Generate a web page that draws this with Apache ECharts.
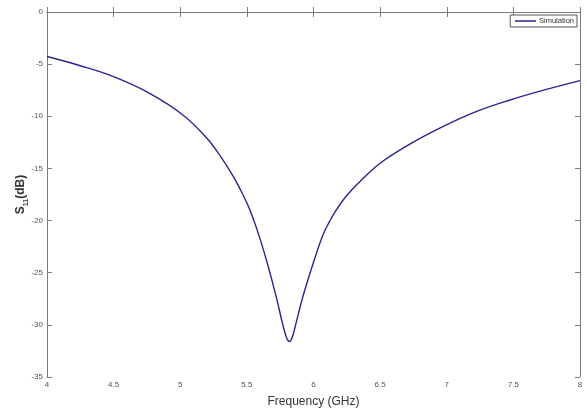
<!DOCTYPE html>
<html>
<head>
<meta charset="utf-8">
<style>
  html, body { margin: 0; padding: 0; background: #fff; }
  #chart { width: 587px; height: 413px; }
</style>
<script src="https://cdn.jsdelivr.net/npm/echarts@6/dist/echarts.min.js"></script>
</head>
<body>
<div id="chart"></div>
<script>
// Return loss of the antenna versus frequency
const freqGHz = [4.00, 4.25, 4.50, 4.77, 5.02, 5.20, 5.30, 5.40, 5.45, 5.52, 5.60, 5.66, 5.72, 5.77, 5.80,
                 5.82, 5.84, 5.86, 5.92, 6.00, 6.07, 6.12, 6.17, 6.25, 6.37, 6.50, 6.72, 6.97,
                 7.22, 7.47, 7.72, 8.00];
const s11dB = [-4.27, -5.15, -6.2, -7.8, -9.87, -12.1, -13.8, -15.8, -17.0, -18.9, -21.8, -24.4, -27.3, -30.0, -31.3,
               -31.6, -31.2, -30.3, -27.3, -24.0, -21.4, -20.1, -19.0, -17.6, -16.0, -14.5, -12.7, -11.0,
               -9.56, -8.46, -7.52, -6.58];
const seriesName = 'Simulation';
const xTitle = 'Frequency (GHz)';

const axisGrey = '#7a7a7a';
const lineColor = '#26268e';
const font = 'Liberation Sans, Arial, sans-serif';
const labelStyle = { fontSize: 8, color: '#555', fontFamily: font };

const chart = echarts.init(document.getElementById('chart'), null, { renderer: 'canvas' });
chart.setOption({
  animation: false,
  backgroundColor: '#fff',
  grid: { left: 47, top: 12, right: 7, bottom: 30, containLabel: false },
  legend: {
    data: [seriesName],
    right: 10, top: 15,
    orient: 'vertical',
    padding: [2, 3, 2, 4],
    itemWidth: 21, itemHeight: 8, itemGap: 2,
    itemStyle: { opacity: 0 },
    lineStyle: { color: lineColor, width: 1.5 },
    borderColor: '#555', borderWidth: 1, borderRadius: 0,
    backgroundColor: '#fff',
    textStyle: { fontSize: 7.5, color: '#333', fontFamily: font, padding: [0, 0, 0, -2] }
  },
  xAxis: [{
    type: 'value', min: 4, max: 8, interval: 0.5,
    name: xTitle, nameLocation: 'middle', nameGap: 19, nameMoveOverlap: false,
    nameTextStyle: { fontSize: 12, color: '#333', fontFamily: font },
    axisLine: { show: true, lineStyle: { color: axisGrey, width: 1 } },
    axisTick: { show: true, inside: true, length: 5, lineStyle: { color: axisGrey } },
    axisLabel: Object.assign({ margin: 4, formatter: v => String(v) }, labelStyle),
    splitLine: { show: false }
  }, {
    type: 'value', min: 4, max: 8, interval: 0.5, position: 'top',
    axisLine: { show: true, lineStyle: { color: axisGrey, width: 1 } },
    axisTick: { show: true, inside: true, length: 5, lineStyle: { color: axisGrey } },
    axisLabel: { show: false },
    splitLine: { show: false }
  }],
  yAxis: [{
    type: 'value', min: -35, max: 0, interval: 5,
    name: '{s|S}{sub|11}{s|(dB)}', nameLocation: 'middle', nameGap: 20, nameRotate: 90,
    nameMoveOverlap: false,
    nameTextStyle: {
      rich: {
        s: { fontSize: 12, fontWeight: 'bold', color: '#333', fontFamily: font, lineHeight: 14, verticalAlign: 'bottom' },
        sub: { fontSize: 7, fontWeight: 'bold', color: '#333', fontFamily: font, lineHeight: 14, verticalAlign: 'bottom', padding: [0, 0, -3, 0] }
      }
    },
    axisLine: { show: true, lineStyle: { color: axisGrey, width: 1 } },
    axisTick: { show: true, inside: true, length: 5, lineStyle: { color: axisGrey } },
    axisLabel: Object.assign({ margin: 4 }, labelStyle),
    splitLine: { show: false }
  }, {
    type: 'value', min: -35, max: 0, interval: 5, position: 'right',
    axisLine: { show: true, lineStyle: { color: axisGrey, width: 1 } },
    axisTick: { show: true, inside: true, length: 5, lineStyle: { color: axisGrey } },
    axisLabel: { show: false },
    splitLine: { show: false }
  }],
  series: [{
    name: seriesName,
    type: 'line',
    xAxisIndex: 0, yAxisIndex: 0,
    data: freqGHz.map((f, i) => [f, s11dB[i]]),
    smooth: 0.4,
    symbol: 'none',
    lineStyle: { color: lineColor, width: 1.4 },
    itemStyle: { color: lineColor }
  }]
});
</script>
</body>
</html>
